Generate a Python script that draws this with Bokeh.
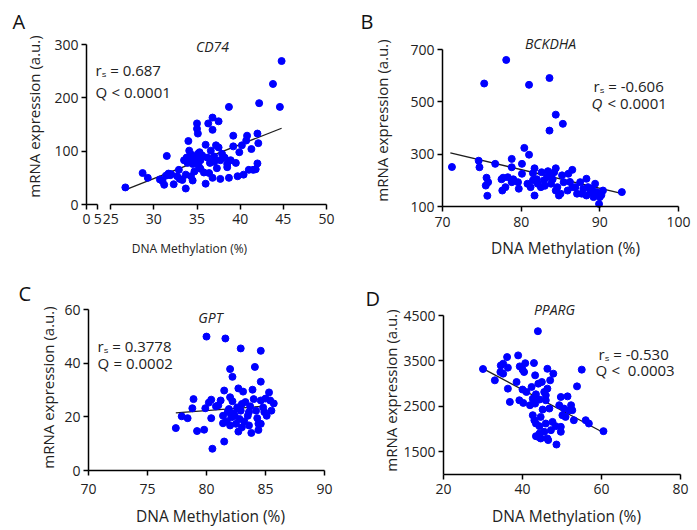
import math
from bokeh.plotting import figure
from bokeh.models import Range1d, FixedTicker, Label, LinearAxis
from bokeh.layouts import column, row
from bokeh.embed import file_html
from bokeh.resources import INLINE

# ---------------- data ----------------
A_x = [26.7, 28.7, 29.3, 30.7, 31.0, 31.2, 31.4, 31.5, 31.7, 31.9, 32.3, 32.7, 32.9, 33.0, 33.3,
       33.5, 33.7, 33.7, 33.8, 34.0, 34.1, 34.3, 34.3, 34.5, 34.6, 34.5, 35.0, 35.0, 35.1, 35.1,
       35.4, 35.4, 34.8, 35.2, 35.6, 36.0, 36.0, 36.2, 36.3, 36.4, 36.6, 36.8, 36.8, 36.8, 37.0,
       37.2, 37.3, 37.5, 37.5, 37.7, 37.7, 37.9, 38.5, 38.5, 38.7, 38.7, 38.9, 39.2, 39.2, 39.7,
       39.9, 40.2, 40.4, 40.7, 40.8, 41.0, 41.3, 41.5, 41.8, 42.0, 42.0, 42.1, 42.2, 43.8, 44.6,
       44.8, 34.2, 34.9, 35.3, 33.9, 36.5, 35.8, 34.7, 38.2, 39.5, 32.0, 37.0]
A_y = [32, 59, 50, 47, 44, 37, 54, 91, 58, 55, 38, 53, 65, 48, 46,
       83, 30, 56, 88, 119, 101, 94, 53, 76, 88, 45, 152, 142, 133, 95,
       83, 67, 80, 72, 92, 112, 39, 88, 152, 59, 101, 163, 140, 50, 80,
       111, 68, 156, 107, 83, 48, 95, 76, 70, 183, 50, 83, 129, 109, 53,
       98, 111, 56, 120, 129, 65, 104, 65, 66, 133, 77, 115, 190, 226, 183,
       269, 86, 90, 98, 78, 78, 60, 62, 88, 78, 57, 90]
A_fit_x = [26.9, 44.8]
A_fit_y = [29, 143]

B_x = [71.2, 74.6, 74.7, 75.3, 75.5, 75.6, 75.7, 75.8, 76.7, 77.6, 77.7, 78.0, 78.1, 78.3, 78.8,
       78.8, 78.8, 79.6, 79.7, 80.1, 80.1, 80.4, 80.8, 81.0, 81.0, 81.5, 81.5, 81.7, 81.7, 82.1,
       82.5, 82.6, 82.9, 83.3, 83.4, 83.6, 83.6, 83.8, 84.2, 84.4, 84.4, 84.4, 84.6, 84.8, 85.0,
       85.2, 85.3, 85.4, 85.9, 86.0, 86.5, 86.5, 86.9, 87.1, 87.5, 87.7, 87.9, 88.3, 88.3, 88.5,
       89.0, 89.2, 89.4, 89.6, 89.9, 90.0, 90.4, 92.8, 82.0, 83.0, 84.0, 86.2, 88.8, 90.2, 79.0,
       81.2, 77.5, 83.8]
B_y = [251, 275, 250, 570, 180, 210, 141, 193, 263, 161, 210, 174, 660, 212, 282,
       250, 193, 193, 168, 263, 225, 324, 187, 298, 565, 227, 200, 246, 142, 187,
       174, 231, 200, 212, 235, 390, 591, 187, 231, 246, 451, 161, 174, 142, 149,
       219, 416, 193, 161, 225, 240, 174, 174, 149, 193, 149, 168, 206, 142, 174,
       168, 136, 187, 155, 110, 136, 161, 155, 204, 179, 204, 194, 154, 144, 204,
       174, 204, 219]
B_fit_x = [71.0, 93.0]
B_fit_y = [305, 148]

C_x = [77.4, 77.9, 78.4, 78.8, 78.9, 79.2, 79.8, 79.9, 80.0, 80.4, 80.4, 80.5, 80.8, 81.2, 81.4,
       81.4, 81.5, 81.5, 81.6, 81.7, 81.9, 82.0, 82.0, 82.1, 82.2, 82.2, 82.5, 82.6, 82.7, 82.7,
       82.8, 82.9, 83.0, 83.1, 83.3, 83.5, 83.6, 83.7, 83.8, 83.9, 84.0, 84.1, 84.3, 84.4, 84.6,
       84.6, 84.6, 84.6, 84.8, 85.1, 85.3, 85.4, 85.7, 84.4, 82.3, 82.9, 83.2, 81.0, 80.2, 83.6,
       84.9, 85.5, 82.4, 81.8, 83.0, 84.2, 85.0, 82.0]
C_y = [15.8, 20.2, 19.5, 23.2, 26.6, 14.7, 15.2, 23.2, 49.9, 26.4, 19.5, 8.1, 23.9, 26.1, 20.4,
       17.6, 29.8, 10.8, 49.2, 18.3, 22.9, 37.8, 16.8, 19.8, 34.9, 25.8, 17.4, 23.5, 30.6, 14.5,
       19.2, 45.5, 16.1, 29.4, 25.5, 20.4, 16.8, 23.9, 14.0, 30.1, 26.6, 38.6, 19.5, 17.4, 44.6,
       33.1, 26.1, 17.4, 23.5, 20.4, 29.1, 26.1, 25.0, 15.1, 21.3, 22.3, 18.3, 24.3, 25.3, 21.8,
       21.8, 22.3, 20.3, 21.8, 24.8, 22.3, 26.8, 27.3]
C_fit_x = [77.4, 85.0]
C_fit_y = [21.5, 24.0]

D_x = [30.0, 33.0, 34.4, 34.5, 35.1, 35.1, 36.1, 36.3, 36.3, 36.8, 38.5, 38.9, 39.2, 39.3, 40.0,
       40.0, 40.2, 40.4, 40.7, 41.0, 41.9, 42.3, 42.6, 42.6, 42.9, 43.0, 43.2, 43.2, 43.4, 43.4,
       43.4, 43.9, 43.9, 44.0, 44.3, 44.3, 44.3, 44.6, 44.6, 44.9, 45.1, 45.5, 45.5, 45.9, 45.9,
       45.9, 46.3, 46.3, 46.3, 46.5, 46.8, 47.0, 47.2, 47.6, 47.8, 48.4, 48.6, 49.3, 49.7, 49.7,
       49.7, 50.1, 50.5, 50.9, 51.4, 51.8, 52.3, 52.6, 53.0, 53.8, 55.0, 56.0, 56.8, 60.5]
D_y = [3322, 3073, 3256, 3400, 3440, 3220, 3585, 3352, 2890, 2598, 3036, 3622, 2634, 3380, 3310,
       2870, 2576, 3256, 3450, 2817, 2525, 2927, 2670, 2305, 3453, 2195, 3183, 2561, 2766, 2122,
       1844, 4155, 1830, 3000, 2650, 2064, 1903, 2268, 1793, 3036, 2430, 2817, 1940, 2744, 2634,
       2122, 3327, 2890, 1793, 1757, 2452, 3073, 1976, 2158, 3220, 2064, 1660, 2525, 2707, 2049,
       1940, 2305, 2452, 2268, 2720, 2415, 2525, 2415, 2195, 2940, 3308, 2195, 2122, 1954]
D_fit_x = [30.0, 60.1]
D_fit_y = [3330, 1940]

A_xticks_low = [22.2, 23.5]           # the broken-off 0 / 5 segment
A_xtick_low_labels = ["0", "5"]
A_xticks = [25, 30, 35, 40, 45, 50]
A_yticks = [0, 100, 200, 300]
B_xticks = [70, 80, 90, 100]
B_yticks = [100, 300, 500, 700]
C_xticks = [70, 75, 80, 85, 90]
C_yticks = [0, 20, 40, 60]
D_xticks = [20, 40, 60, 80]
D_yticks = [1500, 2500, 3500, 4500]

genes = ["CD74", "BCKDHA", "GPT", "PPARG"]
r_texts = ["r\u209b = 0.687", "r\u209b = -0.606", "r\u209b = 0.3778", "r\u209b = -0.530"]
q_symbols = ["Q", "Q", "Q", "Q"]
q_italic = [False, True, False, False]
q_texts = ["< 0.0001", "< 0.0001", "= 0.0002", "<\u00a0 0.0003"]
letters = ["A", "B", "C", "D"]
XLABEL = "DNA Methylation (%)"
YLABEL = "mRNA expression (a.u.)"

FONT = "Open Sans"
DOT = "#0000ff"
TXT = "#222222"
Q_GAP_PX = 16  # "Q" glyph plus one space at 15px


def style_axis(ax, ticks, standoff, bounds):
    ax.ticker = FixedTicker(ticks=ticks)
    ax.bounds = bounds
    ax.axis_line_color = "black"
    ax.axis_line_width = 1.5
    ax.major_tick_line_color = "black"
    ax.major_tick_line_width = 1.5
    ax.major_tick_out = 5
    ax.major_tick_in = 0
    ax.minor_tick_line_color = None
    ax.major_label_text_font = FONT
    ax.major_label_text_font_size = "14px"
    ax.major_label_text_color = TXT
    ax.major_label_standoff = standoff


def make_panel(origin, size, frame, xr, yr, xs, ys, fx, fy, xticks, yticks, xtick_standoff,
               texts, xlab_size):
    ox, oy = origin
    w, h = size
    fl, fr, ft, fb = frame
    sx = (xr[1] - xr[0]) / (fr - fl)
    sy = (yr[1] - yr[0]) / (fb - ft)
    p = figure(width=w, height=h,
               x_range=Range1d(xr[0] - (fl - ox) * sx, xr[1] + (ox + w - fr) * sx),
               y_range=Range1d(yr[0] - (oy + h - fb) * sy, yr[1] + (ft - oy) * sy),
               x_axis_location=None, y_axis_location=None, min_border=0,
               output_backend="svg", toolbar_location=None)
    p.title.visible = False
    p.outline_line_color = None
    p.grid.visible = False
    p.background_fill_color = "white"
    p.border_fill_color = "white"

    def to_data(px, py):
        return xr[0] + (px - fl) * sx, yr[1] - (py - ft) * sy

    xa = LinearAxis(fixed_location=yr[0])
    style_axis(xa, xticks, xtick_standoff, (xticks[0], xticks[-1]))
    p.add_layout(xa, "below")
    ya = LinearAxis(fixed_location=xr[0])
    style_axis(ya, yticks, 3, (yr[0], yr[1]))
    p.add_layout(ya, "left")

    p.line(fx, fy, color="#1e1e1e", line_width=1.3)
    p.scatter(xs, ys, size=7, color=DOT, line_color=DOT)

    (gene, rtxt, qsym, qital, qtxt, letter,
     gene_px, r_px, q_px, letter_px, xl_px, yl_px) = texts
    gx, gy = to_data(*gene_px)
    p.add_layout(Label(x=gx, y=gy, text=gene, text_font=FONT, text_font_size="14px",
                       text_font_style="italic", text_align="center", text_baseline="middle",
                       text_color=TXT))
    rx, ry = to_data(*r_px)
    p.add_layout(Label(x=rx, y=ry, text=rtxt, text_font=FONT, text_font_size="15px",
                       text_align="left", text_baseline="middle", text_color=TXT))
    qx, qy = to_data(*q_px)
    p.add_layout(Label(x=qx, y=qy, text=qsym, text_font=FONT, text_font_size="15px",
                       text_font_style="italic" if qital else "normal",
                       text_align="left", text_baseline="middle", text_color=TXT))
    qx2, _ = to_data(q_px[0] + Q_GAP_PX, q_px[1])
    p.add_layout(Label(x=qx2, y=qy, text=qtxt, text_font=FONT, text_font_size="15px",
                       text_align="left", text_baseline="middle", text_color=TXT))
    lx, ly = to_data(*letter_px)
    p.add_layout(Label(x=lx, y=ly, text=letter, text_font=FONT, text_font_size="20px",
                       text_align="left", text_baseline="alphabetic", text_color="#111111"))
    xlx, xly = to_data(*xl_px)
    p.add_layout(Label(x=xlx, y=xly, text=XLABEL, text_font=FONT, text_font_size=xlab_size,
                       text_align="center", text_baseline="middle", text_color=TXT))
    ylx, yly = to_data(*yl_px)
    p.add_layout(Label(x=ylx, y=yly, text=YLABEL, text_font=FONT, text_font_size="15px",
                       text_align="center", text_baseline="middle", text_color=TXT,
                       angle=math.pi / 2))
    return p


pA = make_panel((0, 0), (348, 262), (86, 326, 44, 204), (22.2, 50), (0, 300), A_x, A_y,
                A_fit_x, A_fit_y, A_xticks, A_yticks, 4,
                (genes[0], r_texts[0], q_symbols[0], q_italic[0], q_texts[0], letters[0],
                 (212, 46), (95, 69), (95, 91), (12, 21), (189, 248), (33, 116)), "12px")
# broken-off start of the x axis (0 and 5)
xa_low = LinearAxis(fixed_location=0)
style_axis(xa_low, A_xticks_low, 4, (A_xticks_low[0], A_xticks_low[-1]))
xa_low.major_label_overrides = {t: s for t, s in zip(A_xticks_low, A_xtick_low_labels)}
pA.add_layout(xa_low, "below")

pB = make_panel((348, 0), (348, 262), (442, 678, 49, 206), (70, 100), (100, 700), B_x, B_y,
                B_fit_x, B_fit_y, B_xticks, B_yticks, 5,
                (genes[1], r_texts[1], q_symbols[1], q_italic[1], q_texts[1], letters[1],
                 (550, 43), (593, 85), (591, 102), (360, 21), (565, 247), (381, 120)), "15.5px")

pC = make_panel((0, 262), (348, 266), (88, 324, 309, 470), (70, 90), (0, 60), C_x, C_y,
                C_fit_x, C_fit_y, C_xticks, C_yticks, 8,
                (genes[2], r_texts[2], q_symbols[2], q_italic[2], q_texts[2], letters[2],
                 (210, 317), (97, 345), (97, 362), (18, 293), (210, 515), (47, 387)), "15.5px")

pD = make_panel((348, 262), (348, 266), (443, 680, 315, 474), (20, 80), (1000, 4500), D_x, D_y,
                D_fit_x, D_fit_y, D_xticks, D_yticks, 4,
                (genes[3], r_texts[3], q_symbols[3], q_italic[3], q_texts[3], letters[3],
                 (554, 309), (598, 353), (595, 369), (365, 298), (566, 515), (390, 390)), "15.5px")

layout = column(row(pA, pB), row(pC, pD))
open("out.html", "w").write(file_html(layout, INLINE))
